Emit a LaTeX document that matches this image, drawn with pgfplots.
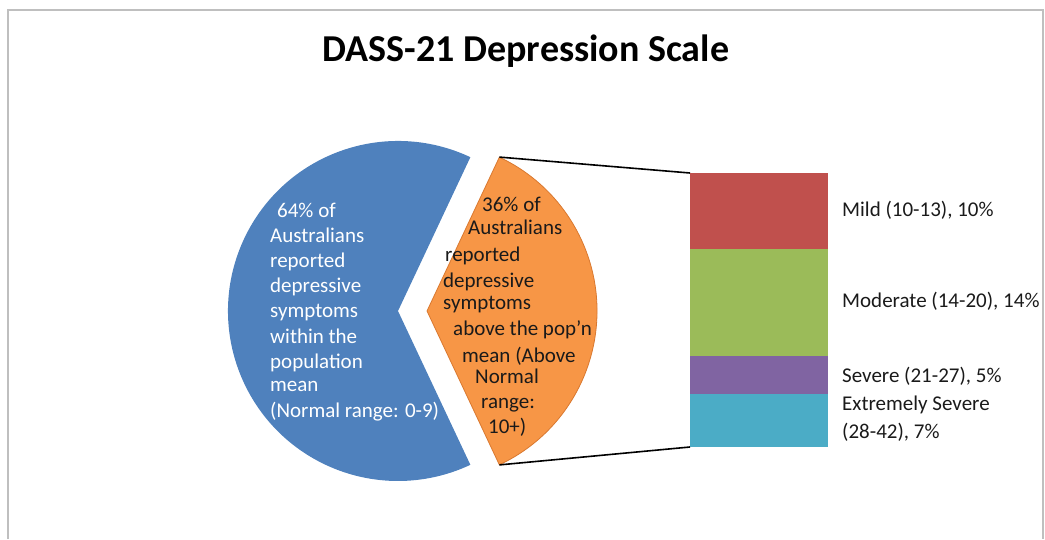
\documentclass[border=0pt]{standalone}
\usepackage{pgfplots}
\pgfplotsset{compat=1.18}
\usepackage{fontspec}
\setmainfont{Carlito}

\definecolor{pieblue}{HTML}{4F81BD}
\definecolor{pieorange}{HTML}{F79646}
\definecolor{orangeedge}{HTML}{D9782F}
\definecolor{barred}{HTML}{C0504D}
\definecolor{bargreen}{HTML}{9BBB59}
\definecolor{barpurple}{HTML}{8064A2}
\definecolor{barteal}{HTML}{4BACC6}
\definecolor{framegray}{HTML}{BFBFBF}
\definecolor{txt}{HTML}{1A1A1A}

% shares of the pie (percent)
\def\normal{64}
\def\above{36}

\begin{document}
\begin{tikzpicture}
\pgfmathsetmacro{\half}{\above*3.6/2}
\pgfmathsetmacro{\bstart}{\half}
\pgfmathsetmacro{\bend}{360-\half}
\begin{axis}[
    hide axis, scale only axis,
    width=1045pt, height=539pt,
    xmin=0, xmax=1045, ymin=0, ymax=539,
]
    % frame
    \draw[framegray, line width=1.5pt] (axis cs:8,0) -- (axis cs:8,529) -- (axis cs:1043,529) -- (axis cs:1043,0);
    % title
    \node[anchor=base, inner sep=0, font=\fontsize{38}{44}\selectfont\bfseries, text=black]
        at (axis cs:526,477) {DASS-21 Depression Scale};

    % pie: within normal range
    \fill[pieblue] (axis cs:398,228) -- ++(\bstart:170pt)
        arc[start angle=\bstart, end angle=\bend, radius=170pt] -- cycle;
    % pie: above normal range (exploded)
    \filldraw[fill=pieorange, draw=orangeedge, line width=0.8pt] (axis cs:427,228) -- ++(-\half:170pt)
        arc[start angle=-\half, end angle=\half, radius=170pt] -- cycle;

    % connector lines
    \draw[black, line width=1.6pt] (axis cs:499.4,381.9) -- (axis cs:690,366);
    \draw[black, line width=1.6pt] (axis cs:499.4,74.1) -- (axis cs:690,92);

    % blue text
    \begin{scope}[every node/.style={anchor=base west, inner sep=0, font=\fontsize{21}{25}\selectfont, text=white}]
    \node at (axis cs:277,321) {64\% of};
    \node at (axis cs:270,296) {Australians};
    \node at (axis cs:270,271) {reported};
    \node at (axis cs:270,246) {depressive};
    \node at (axis cs:270,221) {symptoms};
    \node at (axis cs:270,196) {within the};
    \node at (axis cs:270,171) {population};
    \node at (axis cs:270,147) {mean};
    \node at (axis cs:270,122) {(Normal range: 0-9)};
    \end{scope}

    % orange text
    \begin{scope}[every node/.style={anchor=base west, inner sep=0, font=\fontsize{21}{25}\selectfont, text=txt}]
    \node at (axis cs:482,327) {36\% of};
    \node at (axis cs:468,304) {Australians};
    \node at (axis cs:445,277) {reported};
    \node at (axis cs:443,251) {depressive};
    \node at (axis cs:443,229) {symptoms};
    \node at (axis cs:453,204) {above the pop’n};
    \node at (axis cs:462,177) {mean (Above};
    \node at (axis cs:475,156) {Normal};
    \node at (axis cs:481,131) {range:};
    \node at (axis cs:488,106) {10+)};
    \end{scope}

    % bar labels
    \begin{scope}[every node/.style={anchor=base west, inner sep=0, font=\fontsize{21}{25}\selectfont, text=txt}]
    \node at (axis cs:842,322) {Mild (10-13), 10\%};
    \node at (axis cs:842,231) {Moderate (14-20), 14\%};
    \node at (axis cs:842,157) {Severe (21-27), 5\%};
    \node at (axis cs:842,129) {Extremely Severe};
    \node at (axis cs:842,101) {(28-42), 7\%};
    \end{scope}
\end{axis}

% breakdown of the 36% above normal range
\begin{axis}[
    at={(690pt,92pt)}, anchor=south west,
    hide axis, scale only axis,
    width=138pt, height=274pt,
    xmin=-0.5, xmax=0.5, ymin=0, ymax=36,
    ybar stacked, bar width=138pt,
]
    \addplot[fill=barteal, draw=none] coordinates {(0,7)};
    \addplot[fill=barpurple, draw=none] coordinates {(0,5)};
    \addplot[fill=bargreen, draw=none] coordinates {(0,14)};
    \addplot[fill=barred, draw=none] coordinates {(0,10)};
\end{axis}
% keep the whole canvas in the picture
\path (0,0) rectangle (1045pt,539pt);
\end{tikzpicture}
\end{document}
